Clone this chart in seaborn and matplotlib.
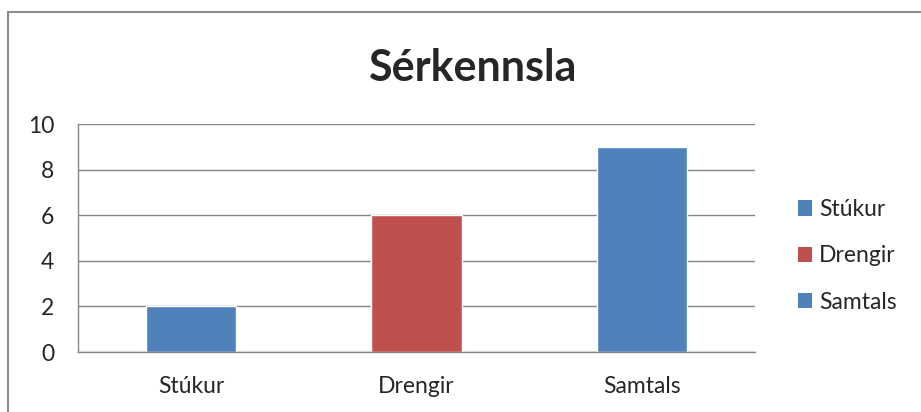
import numpy as np
import pandas as pd
import seaborn as sns
import matplotlib.pyplot as plt
from matplotlib.patches import Patch, Rectangle

categories = ["Stúkur", "Drengir", "Samtals"]
values = [2, 6, 9]
colors = ["#4F81BD", "#C0504D", "#4F81BD"]
yticks = [0, 2, 4, 6, 8, 10]

sns.set_style("white")
plt.rcParams["font.family"] = ["Lato", "DejaVu Sans"]

df = pd.DataFrame({"cat": categories, "val": values})

fig = plt.figure(figsize=(9.21, 4.12), dpi=100)
ax = fig.add_axes([0.0847, 0.1456, 0.7351, 0.5534])

sns.barplot(data=df, x="cat", y="val", hue="cat", palette=colors,
            width=0.4, dodge=False, legend=False, ax=ax, saturation=1)

grid_col = "#868686"
ax.set_ylim(0, 10)
ax.set_xlim(-0.5, 2.5)
ax.set_yticks(yticks)
ax.set_yticklabels([str(t) for t in yticks], fontsize=16.5)
ax.yaxis.grid(True, color=grid_col, linewidth=1)
ax.set_axisbelow(True)
ax.set_xlabel("")
ax.set_ylabel("")
ax.set_xticks([0, 1, 2])
ax.set_xticklabels(categories, fontsize=16.5)
ax.tick_params(axis="x", length=0, pad=17.5)
ax.set_xticks([-0.5, 0.5, 1.5, 2.5], minor=True)
ax.tick_params(axis="x", which="minor", length=6, color=grid_col, width=1,
               direction="out")
ax.tick_params(axis="y", length=6, color=grid_col, width=1, direction="out",
               pad=11)
for s in ["top", "right"]:
    ax.spines[s].set_visible(False)
for s in ["left", "bottom"]:
    ax.spines[s].set_color(grid_col)
    ax.spines[s].set_linewidth(1)

fig.text(0.5125, 1 - 81 / 412, "Sérkennsla", fontsize=31, fontweight="bold",
         ha="center", va="baseline")

handles = [Patch(facecolor=c, edgecolor="none") for c in colors]
fig.legend(handles, categories, loc="center left",
           bbox_to_anchor=(0.866, 0.379), frameon=False, fontsize=16.5,
           handlelength=0.65, handleheight=0.65, handletextpad=0.3,
           labelspacing=1.1, borderpad=0, borderaxespad=0)

# chart area frame (only left and top edges visible in the crop)
fig.patches.append(Rectangle((8 / 921, -0.1), 1.2, 1.1 - 12 / 412,
                             transform=fig.transFigure, fill=False,
                             edgecolor="#8c8c8c", linewidth=1.5))

fig.savefig("out.png", dpi=100)
